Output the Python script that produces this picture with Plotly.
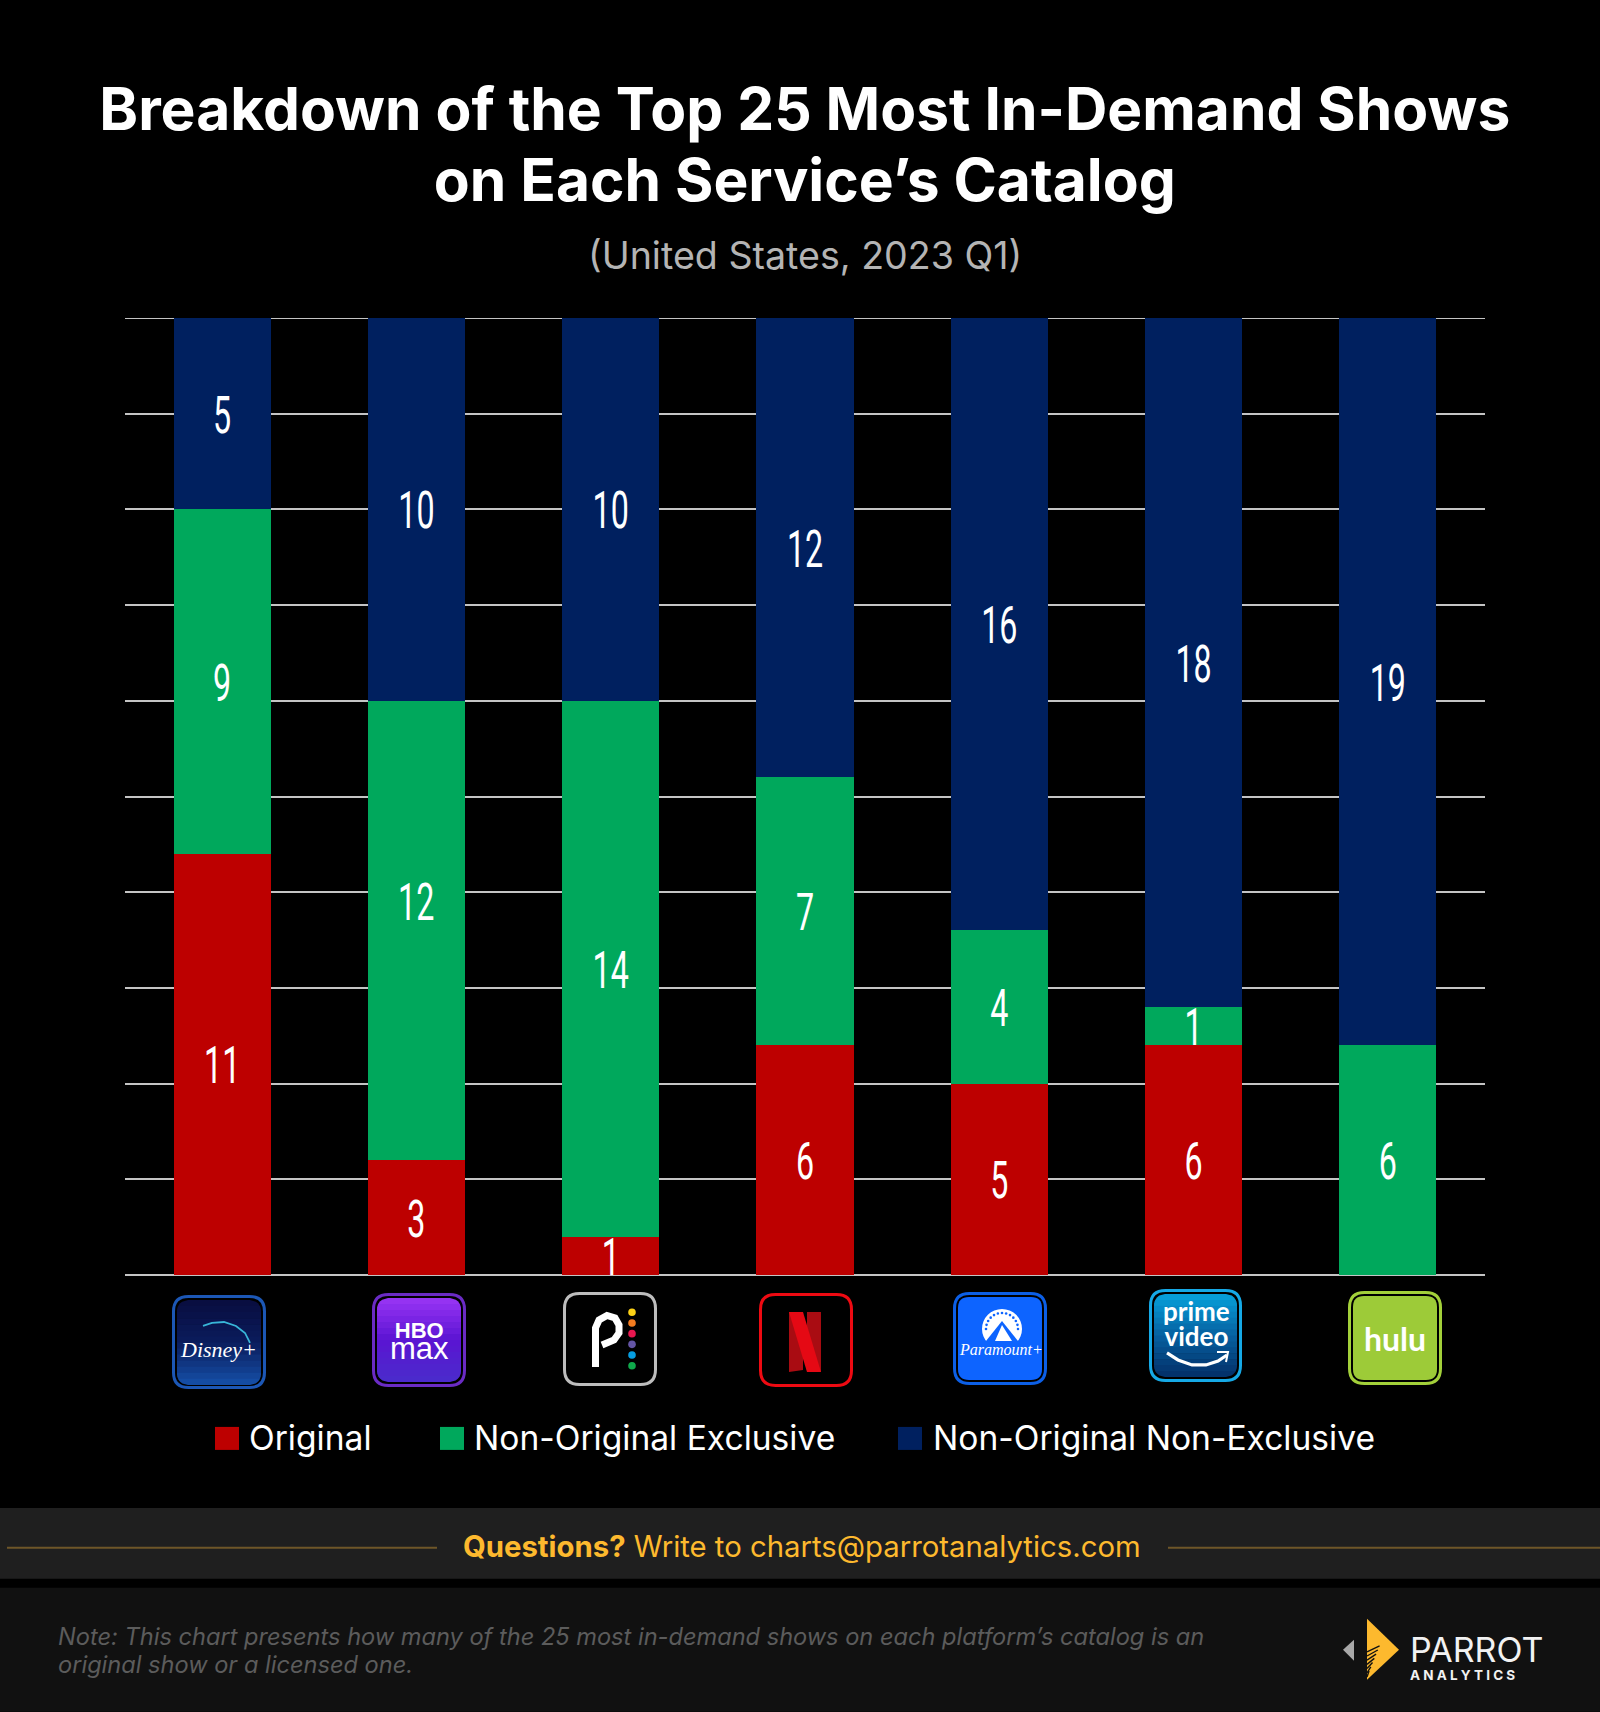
import math
import plotly.graph_objects as go

W, H = 1600, 1712
L, R, T, B = 125, 115, 317.5, 437

services = ["Disney+", "HBO Max", "Peacock", "Netflix", "Paramount+", "Prime Video", "Hulu"]
original = [11, 3, 1, 6, 5, 6, 0]
exclusive = [9, 12, 14, 7, 4, 1, 6]
non_exclusive = [5, 10, 10, 12, 16, 18, 19]
series_names = ["Original", "Non-Original Exclusive", "Non-Original Non-Exclusive"]
series_colors = ["#bd0000", "#00a85c", "#00205f"]
y_max = 25

LABEL_FONT = "Roboto"
MAIN_FONT = "Inter"
SCRIPT_FONT = "Liberation Serif"
GRID = "#c4c4c4"


def fx(px):
    return (px - L) / (W - L - R)


def fy(py):
    return 1 - (py - T) / (H - T - B)


shapes, annotations = [], []


def rect(x0, y0, x1, y1, fill, layer="below"):
    shapes.append(dict(type="rect", xref="paper", yref="paper", x0=fx(x0), x1=fx(x1), y0=fy(y0), y1=fy(y1),
                       fillcolor=fill, line_width=0, layer=layer))


def path(points, fill="rgba(0,0,0,0)", line=None, width=0, closed=True, layer="above"):
    d = "M" + " L".join(f"{fx(x):.5f},{fy(y):.5f}" for x, y in points) + (" Z" if closed else "")
    shapes.append(dict(type="path", xref="paper", yref="paper", path=d, fillcolor=fill,
                       line=dict(color=line or "rgba(0,0,0,0)", width=width), layer=layer))


def rrect(x0, y0, x1, y1, r, fill="rgba(0,0,0,0)", line=None, width=0):
    c = lambda v: (f"{fx(v[0]):.5f},{fy(v[1]):.5f}")
    d = (f"M{c((x0+r,y0))} L{c((x1-r,y0))} Q{c((x1,y0))} {c((x1,y0+r))} L{c((x1,y1-r))} "
         f"Q{c((x1,y1))} {c((x1-r,y1))} L{c((x0+r,y1))} Q{c((x0,y1))} {c((x0,y1-r))} "
         f"L{c((x0,y0+r))} Q{c((x0,y0))} {c((x0+r,y0))} Z")
    shapes.append(dict(type="path", xref="paper", yref="paper", path=d, fillcolor=fill,
                       line=dict(color=line or "rgba(0,0,0,0)", width=width), layer="above"))


def mix(stops, t):
    n = len(stops) - 1
    i = min(int(t * n), n - 1)
    u = t * n - i
    a, b = stops[i], stops[i + 1]
    ca = [int(a[k:k + 2], 16) for k in (1, 3, 5)]
    cb = [int(b[k:k + 2], 16) for k in (1, 3, 5)]
    return "#" + "".join(f"{round(p + (q - p) * u):02x}" for p, q in zip(ca, cb))


def gradient_rrect(x0, y0, x1, y1, r, stops, strips=14):
    h = (y1 - y0) / strips

    def inset(y):
        d = min(y - y0, y1 - y)
        if d >= r:
            return 0.0
        d = max(d, 0)
        return r - math.sqrt(max(r * r - (r - d) ** 2, 0))

    for i in range(strips):
        a, b = y0 + i * h, min(y0 + (i + 1) * h + 0.6, y1)
        ys = [a + (b - a) * k / 4 for k in range(5)]
        pts = [(x0 + inset(y), y) for y in ys] + [(x1 - inset(y), y) for y in reversed(ys)]
        path(pts, fill=mix(stops, (i + 0.5) / strips))


def dot(cx, cy, r, fill):
    shapes.append(dict(type="circle", xref="paper", yref="paper", x0=fx(cx - r), x1=fx(cx + r),
                       y0=fy(cy + r), y1=fy(cy - r), fillcolor=fill, line_width=0, layer="above"))


def text(x, y, s, size, color="#ffffff", family=MAIN_FONT, anchor="center"):
    annotations.append(dict(xref="paper", yref="paper", x=fx(x), y=fy(y), text=s, showarrow=False,
                            xanchor=anchor, yanchor="middle", align="left" if anchor == "left" else "center",
                            font=dict(size=size, color=color, family=family)))


# footer bands
rect(0, 1508, W, 1579, "#1f1f1f")
rect(0, 1588, W, H, "#111111")
rect(7, 1547, 437, 1549, "#6e5628")
rect(1168, 1547, W, 1549, "#6e5628")

text(802, 1547, "<b>Questions?</b> Write to charts@parrotanalytics.com", 29.3, "#fdb92e")
text(56, 1637, "<i>Note: This chart presents how many of the 25 most in-demand shows on each platform’s catalog is an</i>", 23.6, "#5c5c5c", anchor="left")
text(56, 1665, "<i>original show or a licensed one.</i>", 23.6, "#5c5c5c", anchor="left")

# parrot logo
path([(1367, 1619), (1399, 1650), (1367, 1680)], fill="#fdb92e")
for i in range(7):
    y = 1650 + i * 4.2
    path([(1367, y + 2), (1367 + (1680 - y) * 0.42, y - 4)], line="#111111", width=1.4, closed=False)
path([(1354, 1640), (1343, 1650), (1354, 1661)], fill="#a8a8a8")
text(1408, 1656, "<span style='font-size:34px'>PARROT</span><br><span style='font-size:13.5px'><b>A N A L Y T I C S</b></span>",
     14, "#f2f2f2", anchor="left")

# legend
legend_pos = [(215, 247), (440, 472), (898, 931)]
for (xs, xt), name, col in zip(legend_pos, series_names, series_colors):
    rect(xs, 1427, xs + 24, 1450, col, layer="above")
    text(xt, 1438, name, 33.6, "#ffffff", anchor="left")

# service logos
borders = {
    "disney": (172, 1295, 266, 1389, "#1c57b5"),
    "hbo": (372, 1293, 466, 1387, "#6a2bc4"),
    "peacock": (563, 1292, 657, 1386, "#bdbdbd"),
    "netflix": (759, 1293, 853, 1387, "#ee0a12"),
    "paramount": (953, 1292, 1047, 1385, "#0c5fe6"),
    "prime": (1149, 1289, 1242, 1382, "#16a9e6"),
    "hulu": (1348, 1291, 1442, 1385, "#a3d03a"),
}
for x0, y0, x1, y1, border in borders.values():
    rrect(x0 + 1.5, y0 + 1.5, x1 - 1.5, y1 - 1.5, 15, line=border, width=3)

gradient_rrect(177, 1300, 261, 1385, 11, ["#090d3f", "#0a1c5c", "#1550a8"])
gradient_rrect(377, 1298, 461, 1382, 11, ["#9a35f5", "#5a14d2", "#4a2ccb"])
rrect(958, 1297, 1042, 1380, 11, fill="#0d64ff")
gradient_rrect(1154, 1294, 1237, 1377, 11, ["#06a2dc", "#0660a0", "#032f68"])
rrect(1353, 1296, 1437, 1380, 11, fill="#9dcb38")

# Disney+
path([(203, 1326), (212, 1323), (224, 1322), (236, 1326), (245, 1333), (250, 1343)],
     line="#38b6d8", width=1.8, closed=False)
text(218, 1350, "<i>Disney+</i>", 22, family=SCRIPT_FONT)
# HBO max
text(419, 1342, "<span style='font-size:22px'><b>HBO</b></span><br><span style='font-size:31px'>max</span>",
     16, family="Liberation Sans")
# Peacock
path([(595.5, 1367), (595.5, 1328), (599, 1320), (607, 1315.5), (615, 1318), (619, 1325), (619, 1333),
      (614, 1340), (602, 1345)], line="#ffffff", width=7, closed=False)
for i, c in enumerate(["#fcd116", "#f37b20", "#e8174f", "#6455a5", "#069de0", "#0fa94b"]):
    dot(632, 1312.3 + i * 10.7, 3.8, c)
# Netflix
path([(789, 1312), (803, 1312), (803, 1370), (789, 1372)], fill="#a90c12")
path([(807, 1312), (821, 1312), (821, 1372), (807, 1370)], fill="#a90c12")
path([(789, 1312), (803, 1312), (821, 1372), (807, 1372)], fill="#e50914")
# Paramount+
dot(1002, 1329, 20, "#ffffff")
rect(981, 1341, 1023, 1350, "#0d64ff", layer="above")
for a in range(-90, 91, 15):
    th = math.radians(a)
    dot(1002 + 16 * math.sin(th), 1329 - 16 * math.cos(th), 1.3, "#0d64ff")
path([(1002, 1321), (986, 1341), (1018, 1341)], fill="#0d64ff")
path([(1002, 1325), (995, 1341), (1012, 1341)], fill="#ffffff")
text(1001, 1350, "<i>Paramount+</i>", 16, family=SCRIPT_FONT)
# Prime Video
text(1196, 1324, "<span style='font-size:26px'><b>prime</b></span><br><span style='font-size:26px'><b>video</b></span>",
     19.5, family="Lato")
path([(1167, 1353), (1178, 1360), (1192, 1365), (1206, 1365), (1218, 1361), (1227, 1355)],
     line="#ffffff", width=3.2, closed=False)
path([(1217, 1352), (1228, 1352), (1226, 1362)], line="#ffffff", width=2, closed=False)
# Hulu
text(1395, 1339, "<b>hulu</b>", 32, family="Lato")

# subtitle
text(805, 255, "(United States, 2023 Q1)", 37.6, "#b4b4b4")

# top gridline, which plotly drops at the end of the axis range
shapes.append(dict(type="line", xref="paper", yref="y", x0=0, x1=1, y0=y_max, y1=y_max,
                   line=dict(color=GRID, width=2), layer="below"))

fig = go.Figure()
for name, vals, col in zip(series_names, [original, exclusive, non_exclusive], series_colors):
    labels = [v if v else None for v in vals]
    if name == "Non-Original Exclusive":
        labels[1] = None  # the HBO label sits above the centre of its bar in the reference
    fig.add_bar(
        name=name, x=services, y=vals, marker=dict(color=col, line_width=0),
        text=labels, textposition="inside", insidetextanchor="middle",
        textangle=0, constraintext="none", cliponaxis=False,
        textfont=dict(family=LABEL_FONT, size=52, color="#ffffff"),
        hovertemplate="%{x}<br>" + name + ": %{y}<extra></extra>",
    )

annotations.append(dict(xref="x", yref="y", x=services[1], y=original[1] + exclusive[1] / 2, yshift=29,
                        text=str(exclusive[1]), showarrow=False,
                        font=dict(family=LABEL_FONT, size=52, color="#ffffff")))

fig.update_layout(
    width=W, height=H, barmode="stack", bargap=0.5, showlegend=False,
    margin=dict(l=L, r=R, t=T, b=B, pad=0),
    paper_bgcolor="#000000", plot_bgcolor="#000000",
    title=dict(text="<span style='font-size:58.7px'><b>Breakdown of the Top 25 Most In-Demand Shows</b></span><br>"
                    "<span style='font-size:58.7px'><b>on Each Service’s Catalog</b></span>",
               x=0.503, xanchor="center", y=1 - 129.5 / H, yanchor="top", pad=dict(t=0),
               font=dict(family=MAIN_FONT, size=55, color="#ffffff")),
    xaxis=dict(showticklabels=False, showgrid=False, ticks="", zeroline=False, showline=False),
    yaxis=dict(range=[0, y_max], tick0=0, dtick=2.5, showticklabels=False, ticks="", showgrid=True,
               gridcolor=GRID, gridwidth=2, zeroline=True, zerolinecolor=GRID,
               zerolinewidth=2, showline=False),
    shapes=shapes, annotations=annotations,
)

post = """
document.body.style.margin='0';document.body.style.overflow='hidden';
function squeeze(t,s){var b=t.getBBox();var c=b.x+b.width/2;var e=t.getAttribute('transform')||'';
t.setAttribute('transform',e+' translate('+c+',1.5) scale('+s+',1) translate('+(-c)+',0)');}
document.querySelectorAll('.bartext').forEach(function(t){squeeze(t,0.62);});
document.querySelectorAll('.annotation-text').forEach(function(t){if(t.textContent==='12'){squeeze(t,0.62);}});
"""
fig.write_html("out.html", post_script=post, config={"displayModeBar": False})
